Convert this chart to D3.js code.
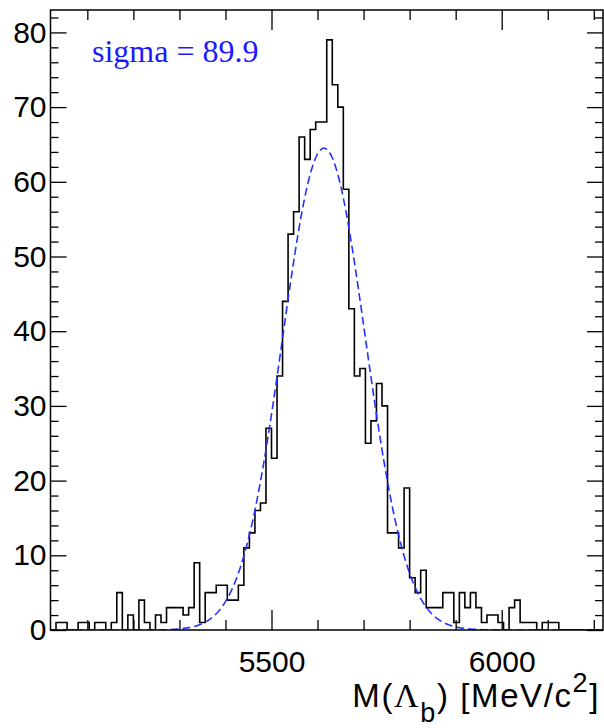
<!DOCTYPE html>
<html><head><meta charset="utf-8">
<script src="https://cdn.jsdelivr.net/npm/d3@7"></script>
<style>body{margin:0;background:#fff;} svg{display:block}</style>
</head><body>
<svg id="c" width="604" height="728"></svg>
<script>
// ---- data ----
const binLow = 5020;          // MeV, lower edge of first bin
const binWidth = 12;          // MeV
const counts = [
  0,1,1,0,0,1,1,0,1,1,
  0,1,5,0,2,0,4,1,0,2,
  1,3,3,3,2,3,9,1,5,5,
  6,6,4,4,6,11,13,16,17,27,
  23,34,44,53,56,66,63,67,68,68,
  79,73,70,59,43,34,35,25,28,33,
  30,13,13,11,19,7,5,8,3,3,
  3,5,5,1,5,3,5,3,1,2,
  2,1,0,3,4,1,1,1,0,1,
  1,1,0,0,0,0,0,0,0,0
];
const xDomain = [5020, 6220];
const yDomain = [0, 83];
const xMajorTicks = [5500, 6000];
const xMinorTicks = [5100,5200,5300,5400,5600,5700,5800,5900,6100,6200];
const yMajorTicks = [0,10,20,30,40,50,60,70,80];
const yMinorTicks = [2,4,6,8,12,14,16,18,22,24,26,28,32,34,36,38,42,44,46,48,52,54,56,58,62,64,66,68,72,74,76,78,82];
const fitMean = 5614, fitSigma = 89.9, fitAmp = 64.5;
const fitLabel = "sigma = 89.9";

// ---- chart ----
const L = 50.5, R = 603, T = 10, B = 630;
const svg = d3.select("#c");
const x = d3.scaleLinear().domain(xDomain).range([L, R]);
const y = d3.scaleLinear().domain(yDomain).range([B, T]);

svg.append("defs").append("clipPath").attr("id","clip")
  .append("rect").attr("x",L).attr("y",T).attr("width",R-L).attr("height",B-T);

// histogram outline
const pts = [[binLow, 0]];
counts.forEach((c,i)=>{ pts.push([binLow+i*binWidth, c]); pts.push([binLow+(i+1)*binWidth, c]); });
pts.push([binLow+counts.length*binWidth, 0]);
svg.append("path")
  .attr("d", d3.line().x(d=>x(d[0])).y(d=>y(d[1]))(pts))
  .attr("fill","none").attr("stroke","#000").attr("stroke-width",1.6)
  .attr("clip-path","url(#clip)");

// gaussian fit
const gx = d3.range(xDomain[0], xDomain[1]+1, 2);
svg.append("path")
  .attr("d", d3.line().x(d=>x(d)).y(d=>y(fitAmp*Math.exp(-0.5*Math.pow((d-fitMean)/fitSigma,2))))(gx))
  .attr("fill","none").attr("stroke","#2233ff").attr("stroke-width",1.6)
  .attr("stroke-dasharray","8,4").attr("clip-path","url(#clip)");

// axes
const fontFam = "'Liberation Sans', Arial, sans-serif";
function styleAxis(g){ g.select(".domain").remove(); g.selectAll("line").attr("stroke","#000").attr("stroke-width",1.3);
  g.selectAll("text").attr("font-family",fontFam).attr("font-size",30).attr("fill","#000"); }

svg.append("g").attr("transform",`translate(0,${B})`)
  .call(d3.axisBottom(x).tickValues(xMajorTicks).tickSize(-20).tickPadding(21).tickFormat(d3.format("d"))).call(styleAxis);
svg.append("g").attr("transform",`translate(0,${B})`)
  .call(d3.axisBottom(x).tickValues(xMinorTicks).tickSize(-10).tickFormat("")).call(styleAxis);
svg.append("g").attr("transform",`translate(0,${T})`)
  .call(d3.axisTop(x).tickValues(xMajorTicks).tickSize(-20).tickFormat("")).call(styleAxis);
svg.append("g").attr("transform",`translate(0,${T})`)
  .call(d3.axisTop(x).tickValues(xMinorTicks).tickSize(-10).tickFormat("")).call(styleAxis);

svg.append("g").attr("transform",`translate(${L},0)`)
  .call(d3.axisLeft(y).tickValues(yMajorTicks).tickSize(-16).tickPadding(4).tickFormat(d3.format("d"))).call(styleAxis);
svg.append("g").attr("transform",`translate(${L},0)`)
  .call(d3.axisLeft(y).tickValues(yMinorTicks).tickSize(-8).tickFormat("")).call(styleAxis);
svg.append("g").attr("transform",`translate(${R},0)`)
  .call(d3.axisRight(y).tickValues(yMajorTicks).tickSize(-16).tickFormat("")).call(styleAxis);
svg.append("g").attr("transform",`translate(${R},0)`)
  .call(d3.axisRight(y).tickValues(yMinorTicks).tickSize(-8).tickFormat("")).call(styleAxis);

// frame
svg.append("rect").attr("x",L).attr("y",T).attr("width",R-L).attr("height",B-T)
  .attr("fill","none").attr("stroke","#000").attr("stroke-width",1.5);

// fit label
svg.append("text").attr("x",92).attr("y",61.5).attr("font-family","'Liberation Serif', 'Times New Roman', serif")
  .attr("font-size",32).attr("fill","#1a1aff").text(fitLabel);

// axis title
const t = svg.append("text").attr("x",600).attr("y",707).attr("text-anchor","end")
  .attr("font-family",fontFam).attr("font-size",33).attr("letter-spacing",1.6).attr("fill","#000");
t.append("tspan").text("M(");
t.append("tspan").attr("font-family","'Liberation Serif', serif").attr("font-size",34).text("Λ");
t.append("tspan").attr("font-size",27).attr("dy",15).text("b");
t.append("tspan").attr("dy",-15).text(") [MeV/c");
t.append("tspan").attr("font-size",27).attr("dy",-15).text("2");
t.append("tspan").attr("dy",15).text("]");
</script>
</body></html>
